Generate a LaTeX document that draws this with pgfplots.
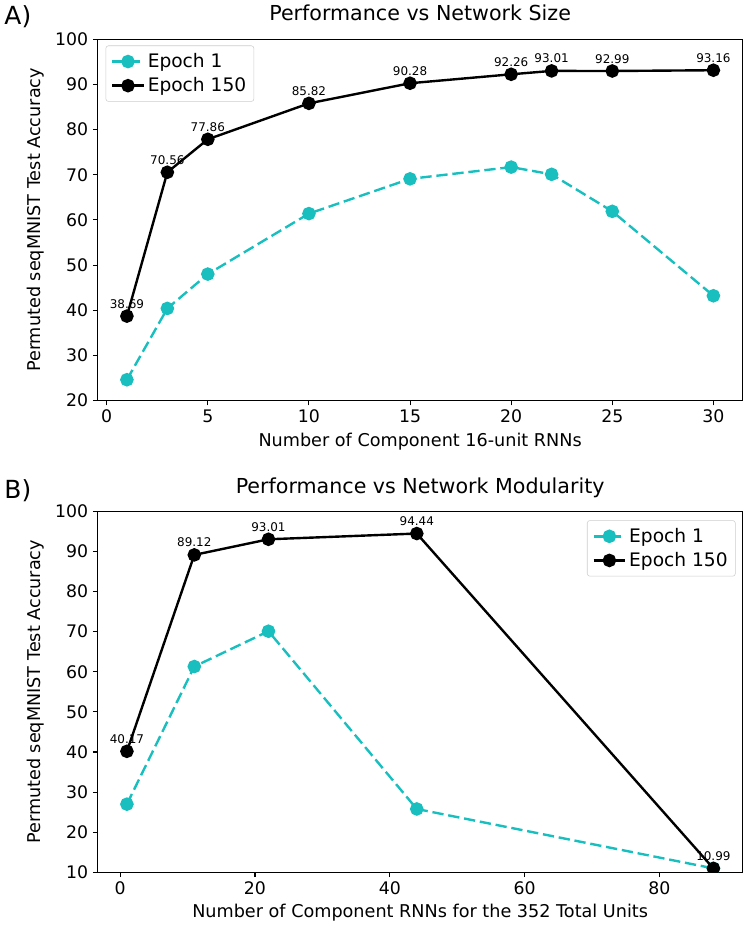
\documentclass[border=0pt]{standalone}
\usepackage{fontspec}
\setmainfont{DejaVu Sans}
\usepackage{pgfplots}
\pgfplotsset{compat=1.18}

\definecolor{ep1}{RGB}{25,190,190}
\definecolor{legframe}{RGB}{204,204,204}

\pgfplotsset{
  perf/.style={
    scale only axis,
    width=485pt, height=271.5pt,
    clip mode=individual,
    axis line style={line width=0.8pt},
    tick align=outside, tick pos=left,
    major tick length=3.6pt,
    every tick/.style={black, line width=0.8pt},
    ticklabel style={font=\fontsize{13}{15}\selectfont},
    label style={font=\fontsize{13.25}{15}\selectfont},
    title style={font=\fontsize{15.5}{18}\selectfont},
    /pgf/number format/assume math mode=true,
    clip marker paths=true,
    legend cell align=left,
    legend style={draw=legframe, rounded corners=2pt, fill=white,
      font=\fontsize{14}{16}\selectfont, inner sep=3.8pt,
      row sep=2pt},
    legend image code/.code={
      \draw[mark repeat=2, mark phase=2, #1] plot coordinates {(0cm,0cm) (0.42cm,0cm) (0.84cm,0cm)};
    },
  },
  ep1line/.style={color=ep1, line width=1.8pt, dash pattern=on 8.5pt off 3.6pt,
    mark=*, mark size=4.2pt, mark options={solid, fill=ep1, draw=ep1}},
  ep150line/.style={color=black, line width=1.8pt,
    mark=*, mark size=4.2pt, mark options={solid, fill=black},
    point meta=explicit symbolic, nodes near coords,
    every node near coord/.style={font=\fontsize{9}{10}\selectfont, anchor=base,
      yshift=6pt, inner sep=0pt, text=black}},
}

\begin{document}
\begin{tikzpicture}
\begin{axis}[perf,
  name=top,
  xmin=-0.45, xmax=31.45, ymin=20, ymax=100,
  xtick={0,5,10,15,20,25,30},
  ytick={20,30,40,50,60,70,80,90,100},
  title={Performance vs Network Size},
  title style={at={(axis description cs:0.5,1.0525)}, anchor=center},
  xlabel={Number of Component 16-unit RNNs},
  xlabel style={at={(axis description cs:0.5,-0.1133)}, anchor=center},
  ylabel={Permuted seqMNIST Test Accuracy},
  ylabel style={at={(axis description cs:-0.0958,0.5)}, anchor=center, rotate=0},
  legend style={at={(axis description cs:0.0124,0.983)}, anchor=north west},
]
\addplot[ep1line] coordinates {
  (1,24.6) (3,40.4) (5,48.0) (10,61.4) (15,69.1) (20,71.7) (22,70.1) (25,61.9) (30,43.2)
};
\addlegendentry{Epoch 1}
\addplot[ep150line] coordinates {
  (1,38.69) [38.69]
  (3,70.56) [70.56]
  (5,77.86) [77.86]
  (10,85.82) [85.82]
  (15,90.28) [90.28]
  (20,92.26) [92.26]
  (22,93.01) [93.01]
  (25,92.99) [92.99]
  (30,93.16) [93.16]
};
\addlegendentry{Epoch 150}
\node[font=\fontsize{18.75}{22}\selectfont] at (rel axis cs:-0.1236,1.0635) {A)};
\end{axis}

\begin{axis}[perf,
  at={(0pt,-354.75pt)},
  xmin=-3.35, xmax=92.35, ymin=10, ymax=100,
  xtick={0,20,40,60,80},
  ytick={10,20,30,40,50,60,70,80,90,100},
  title={Performance vs Network Modularity},
  title style={at={(axis description cs:0.5,1.044)}, anchor=center},
  xlabel={Number of Component RNNs for the 352 Total Units},
  xlabel style={at={(axis description cs:0.5,-0.1126)}, anchor=center},
  ylabel={Permuted seqMNIST Test Accuracy},
  ylabel style={at={(axis description cs:-0.0958,0.5)}, anchor=center, rotate=0},
  legend style={at={(axis description cs:0.989,0.975)}, anchor=north east},
]
\addplot[ep1line] coordinates {
  (1,27.0) (11,61.3) (22,70.1) (44,25.8) (88,11.0)
};
\addlegendentry{Epoch 1}
\addplot[ep150line] coordinates {
  (1,40.17) [40.17]
  (11,89.12) [89.12]
  (22,93.01) [93.01]
  (44,94.44) [94.44]
  (88,10.99) [10.99]
};
\addlegendentry{Epoch 150}
\node[font=\fontsize{18.75}{22}\selectfont] at (rel axis cs:-0.1236,1.0577) {B)};
\end{axis}
\end{tikzpicture}
\end{document}
